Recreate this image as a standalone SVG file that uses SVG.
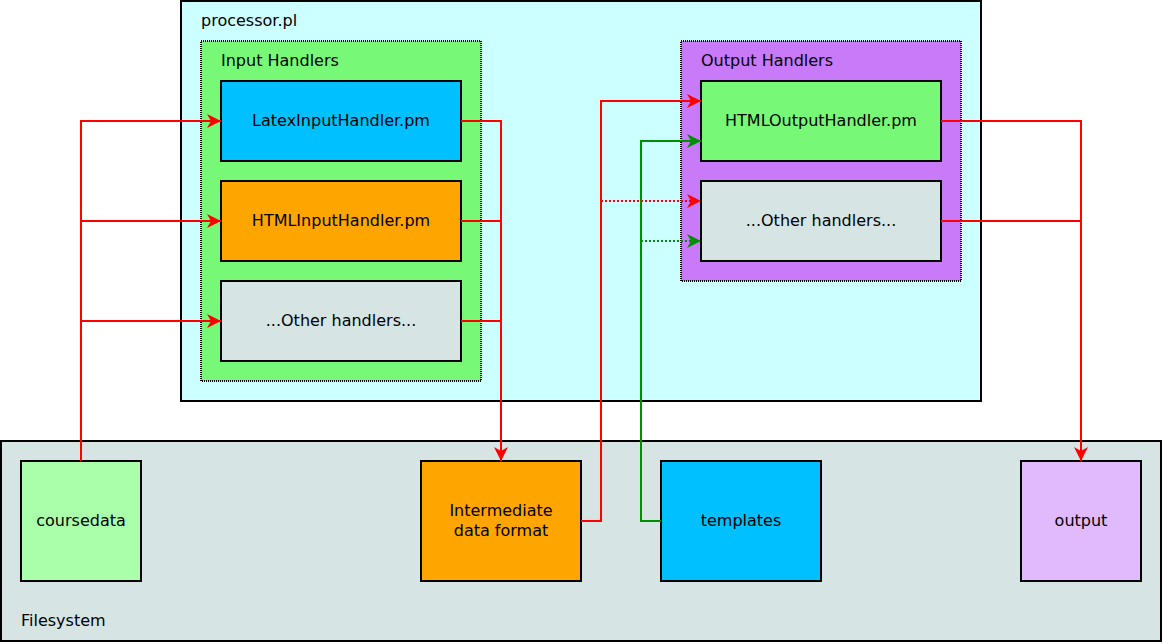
<svg xmlns="http://www.w3.org/2000/svg" width="1163" height="644" viewBox="0 0 1163 644">
<style>
text{font-family:"DejaVu Sans","Liberation Sans",sans-serif;font-size:16px;fill:#000}
.c{text-anchor:middle}
.box{stroke:#000;stroke-width:2}
.grp{stroke:#000;stroke-width:2;stroke-dasharray:1 1}
.r{fill:none;stroke:#ff0000;stroke-width:2}
.g{fill:none;stroke:#008f00;stroke-width:2}
.d{stroke-dasharray:2 2}
</style>
<defs>
<marker id="ar" viewBox="-15 -8 16 16" refX="0" refY="0" markerWidth="16" markerHeight="16" markerUnits="userSpaceOnUse" orient="auto">
<path d="M0,0 L-14,-7 L-10,0 L-14,7 Z" fill="#ff0000"/>
</marker>
<marker id="ag" viewBox="-15 -8 16 16" refX="0" refY="0" markerWidth="16" markerHeight="16" markerUnits="userSpaceOnUse" orient="auto">
<path d="M0,0 L-14,-7 L-10,0 L-14,7 Z" fill="#008f00"/>
</marker>
</defs>
<rect width="1163" height="644" fill="#ffffff"/>
<g id="processor">
<rect class="box" x="181" y="1" width="800" height="400" fill="#ccffff"/>
<text x="201" y="26">processor.pl</text>
</g>
<g id="filesystem">
<rect class="box" x="1" y="441" width="1160" height="200" fill="#d7e4e4"/>
<text x="21" y="626">Filesystem</text>
</g>
<g id="input-handlers">
<rect class="grp" x="201" y="41" width="280" height="340" fill="#77f977"/>
<text x="221" y="66">Input Handlers</text>
</g>
<g id="output-handlers">
<rect class="grp" x="681" y="41" width="280" height="240" fill="#c97af8"/>
<text x="701" y="66">Output Handlers</text>
</g>
<g id="latex-input">
<rect class="box" x="221" y="81" width="240" height="80" fill="#00c0ff"/>
<text class="c" x="341" y="126">LatexInputHandler.pm</text>
</g>
<g id="html-input">
<rect class="box" x="221" y="181" width="240" height="80" fill="#ffa500"/>
<text class="c" x="341" y="226">HTMLInputHandler.pm</text>
</g>
<g id="other-input">
<rect class="box" x="221" y="281" width="240" height="80" fill="#d7e4e4"/>
<text class="c" x="341" y="326">...Other handlers...</text>
</g>
<g id="html-output">
<rect class="box" x="701" y="81" width="240" height="80" fill="#77f977"/>
<text class="c" x="821" y="126">HTMLOutputHandler.pm</text>
</g>
<g id="other-output">
<rect class="box" x="701" y="181" width="240" height="80" fill="#d7e4e4"/>
<text class="c" x="821" y="226">...Other handlers...</text>
</g>
<g id="coursedata">
<rect class="box" x="21" y="461" width="120" height="120" fill="#aaffaa"/>
<text class="c" x="81" y="526">coursedata</text>
</g>
<g id="intermediate">
<rect class="box" x="421" y="461" width="160" height="120" fill="#ffa500"/>
<text class="c" x="501" y="516">Intermediate</text>
<text class="c" x="501" y="536">data format</text>
</g>
<g id="templates">
<rect class="box" x="661" y="461" width="160" height="120" fill="#00c0ff"/>
<text class="c" x="741" y="526">templates</text>
</g>
<g id="output">
<rect class="box" x="1021" y="461" width="120" height="120" fill="#e1b9fd"/>
<text class="c" x="1081" y="526">output</text>
</g>
<g id="connectors">
<polyline class="r" points="81,461 81,121 221,121" marker-end="url(#ar)"/>
<polyline class="r" points="81,221 221,221" marker-end="url(#ar)"/>
<polyline class="r" points="81,321 221,321" marker-end="url(#ar)"/>
<polyline class="r" points="461,121 501,121 501,461" marker-end="url(#ar)"/>
<polyline class="r" points="461,221 501,221"/>
<polyline class="r" points="461,321 501,321"/>
<polyline class="r" points="581,521 601,521 601,101 701,101" marker-end="url(#ar)"/>
<polyline class="r d" points="601,201 701,201" marker-end="url(#ar)"/>
<polyline class="g" points="661,521 641,521 641,141 701,141" marker-end="url(#ag)"/>
<polyline class="g d" points="641,241 701,241" marker-end="url(#ag)"/>
<polyline class="r" points="941,121 1081,121 1081,461" marker-end="url(#ar)"/>
<polyline class="r" points="941,221 1081,221"/>
</g>
</svg>
